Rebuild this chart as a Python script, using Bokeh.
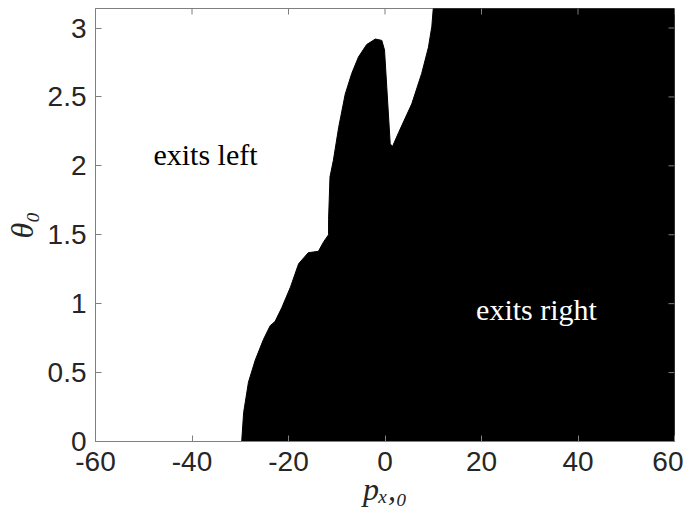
import math
from bokeh.plotting import figure
from bokeh.models import Range1d, FixedTicker
from bokeh.core.properties import value
from bokeh.embed import file_html
from bokeh.resources import INLINE

# boundary between "exits left" (white) and "exits right" (black)
boundary_px = [-29.7, -29.3, -28.3, -26.9, -25.2, -23.8, -22.8, -21.4, -19.6, -17.9, -15.9, -13.8,
               -12.7, -11.7, -11.7, -11.4, -10.7, -9.6, -8.25, -6.9, -5.5, -3.8, -2.0, -0.66,
               -0.1, 0.37, 1.08, 1.55, 2.8, 5.55, 7.6, 9.0, 9.7, 10.0]
boundary_theta = [0.0, 0.21, 0.43, 0.59, 0.74, 0.84, 0.87, 0.97, 1.12, 1.29, 1.37, 1.38,
                  1.45, 1.50, 1.61, 1.92, 2.04, 2.28, 2.52, 2.67, 2.79, 2.88, 2.92, 2.91,
                  2.84, 2.57, 2.16, 2.14, 2.24, 2.45, 2.67, 2.86, 3.01, math.pi]
x_ticks = [-60, -40, -20, 0, 20, 40, 60]
y_ticks = [0, 0.5, 1, 1.5, 2, 2.5, 3]
x_tick_labels = ["-60", "-40", "-20", "0", "20", "40", "60"]
y_tick_labels = ["0", "0.5", "1", "1.5", "2", "2.5", "3"]
label_text = ["exits left", "exits right"]
label_x = [-37.2, 31.4]
label_y = [2.08, 0.96]
label_color = ["black", "white"]

XMIN, XMAX = -60, 60
YMIN, YMAX = 0, math.pi
FW, FH = 579, 433
TICK = 6
AX = "#7f7f7f"

p = figure(frame_width=FW, frame_height=FH, output_backend="svg", toolbar_location=None,
           x_range=Range1d(XMIN, XMAX), y_range=Range1d(YMIN, YMAX),
           min_border_left=90, min_border_right=9, min_border_top=8, min_border_bottom=73)
p.background_fill_color = "white"
p.border_fill_color = "white"
p.grid.visible = False
p.outline_line_color = AX
p.outline_line_width = 1

xs = boundary_px + [XMAX, XMAX]
ys = boundary_theta + [YMAX, YMIN]
p.patch(xs, ys, fill_color="black", line_color="black", line_width=1)

p.text(x=label_x, y=label_y, text=label_text, text_color=label_color,
       text_font=value("Liberation Serif"), text_font_size="30px",
       text_align="center", text_baseline="middle")

# inner ticks on the top and right box edges (MATLAB "box on")
dy = TICK * (YMAX - YMIN) / FH
dx = TICK * (XMAX - XMIN) / FW
p.segment(x0=x_ticks, x1=x_ticks, y0=[YMAX] * len(x_ticks), y1=[YMAX - dy] * len(x_ticks),
          line_color=AX, line_width=1)
p.segment(x0=[XMAX] * len(y_ticks), x1=[XMAX - dx] * len(y_ticks), y0=y_ticks, y1=y_ticks,
          line_color=AX, line_width=1)

for ax in (p.xaxis[0], p.yaxis[0]):
    ax.major_tick_in = TICK
    ax.major_tick_out = 0
    ax.minor_tick_line_color = None
    ax.axis_line_color = AX
    ax.major_tick_line_color = AX
    ax.major_label_text_font = "Liberation Sans"
    ax.major_label_text_font_size = "28px"
    ax.major_label_text_color = "#262626"
    ax.axis_label_text_font = "Liberation Serif"
    ax.axis_label_text_font_style = "italic"
    ax.axis_label_text_font_size = "32px"
    ax.axis_label_text_color = "#262626"

p.xaxis[0].ticker = FixedTicker(ticks=x_ticks)
p.yaxis[0].ticker = FixedTicker(ticks=y_ticks)
p.xaxis[0].major_label_overrides = dict(zip(x_ticks, x_tick_labels))
p.yaxis[0].major_label_overrides = dict(zip(y_ticks, y_tick_labels))
p.xaxis[0].major_label_standoff = 10
p.yaxis[0].major_label_standoff = 9
p.xaxis[0].axis_label = "pₓ,₀"
p.yaxis[0].axis_label = "θ₀"
p.xaxis[0].axis_label_standoff = -3
p.yaxis[0].axis_label_standoff = 5

open("out.html", "w").write(file_html(p, INLINE))
